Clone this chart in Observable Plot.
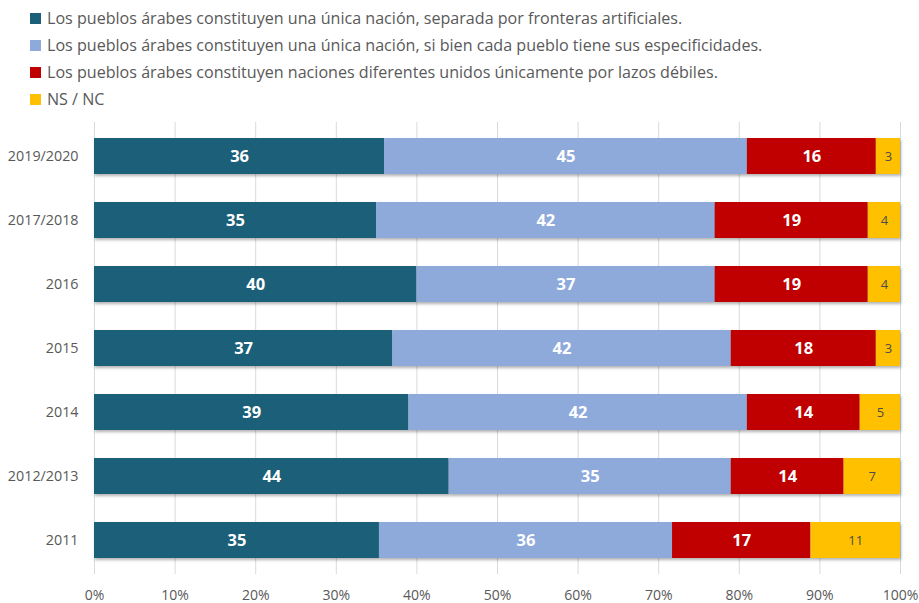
<!DOCTYPE html>
<html>
<head>
<meta charset="utf-8">
<script src="https://cdn.jsdelivr.net/npm/d3@7"></script>
<script src="https://cdn.jsdelivr.net/npm/@observablehq/plot@0.6"></script>
<style>
  html, body { margin: 0; padding: 0; background: #fff; }
  body { width: 919px; height: 603px; overflow: hidden; font-family: "Open Sans", sans-serif; }
  #legend { height: 110px; box-sizing: border-box; padding-top: 5px; padding-left: 30px; }
  .item { height: 27px; line-height: 27px; font-size: 16.1px; color: #595959; display: flex; align-items: center; white-space: nowrap; }
  .sw { width: 11px; height: 11px; margin-right: 6px; flex: none; }
</style>
</head>
<body>
<div id="legend"></div>
<div id="chart"></div>
<script>
const years = ["2019/2020", "2017/2018", "2016", "2015", "2014", "2012/2013", "2011"];
const categories = [
  "Los pueblos árabes constituyen una única nación, separada por fronteras artificiales.",
  "Los pueblos árabes constituyen una única nación, si bien cada pueblo tiene sus especificidades.",
  "Los pueblos árabes constituyen naciones diferentes unidos únicamente por lazos débiles.",
  "NS / NC"
];
const colors = ["#1b5f79", "#8eaadb", "#c00000", "#ffc000"];
const unicaSeparada = [36, 35, 40, 37, 39, 44, 35];
const unicaEspecificidades = [45, 42, 37, 42, 42, 35, 36];
const diferentes = [16, 19, 19, 18, 14, 14, 17];
const nsnc = [3, 4, 4, 3, 5, 7, 11];
const xTicks = [0, 0.1, 0.2, 0.3, 0.4, 0.5, 0.6, 0.7, 0.8, 0.9, 1];

const series = [unicaSeparada, unicaEspecificidades, diferentes, nsnc];
const data = [];
years.forEach((y, i) => {
  series.forEach((s, j) => data.push({year: y, cat: categories[j], value: s[i]}));
});

const legend = document.getElementById("legend");
categories.forEach((c, j) => {
  const row = document.createElement("div");
  row.className = "item";
  const sw = document.createElement("span");
  sw.className = "sw";
  sw.style.background = colors[j];
  const t = document.createElement("span");
  t.textContent = c;
  row.appendChild(sw);
  row.appendChild(t);
  legend.appendChild(row);
});

const stackOpts = {x: "value", y: "year", offset: "normalize", order: null};

const chart = Plot.plot({
  width: 919,
  height: 493,
  marginLeft: 94,
  marginRight: 19,
  marginTop: 12,
  marginBottom: 29,
  style: {fontFamily: "Open Sans, sans-serif", color: "#595959", background: "#fff"},
  x: {domain: [0, 1]},
  y: {domain: years, paddingInner: 0.44, paddingOuter: 0.22},
  color: {domain: categories, range: colors},
  marks: [
    Plot.gridX(xTicks, {stroke: "#d9d9d9", strokeOpacity: 1, strokeWidth: 1}),
    Plot.barX(data, Plot.stackX({...stackOpts, fill: "cat", imageFilter: "drop-shadow(1px 2px 1.5px rgba(0,0,0,0.3))"})),
    Plot.text(data, Plot.stackX({...stackOpts,
      text: d => d.cat === categories[3] ? null : String(d.value),
      fill: "#fff", fontWeight: "bold", fontSize: 16.5})),
    Plot.text(data, Plot.stackX({...stackOpts,
      text: d => d.cat === categories[3] ? String(d.value) : null,
      fill: "#4d4d4d", fontSize: 13})),
    Plot.axisX(xTicks, {tickSize: 0, tickPadding: 16, tickFormat: d3.format(".0%"), fontSize: 14, fill: "#595959", label: null}),
    Plot.axisY({tickSize: 0, tickPadding: 16, fontSize: 14.3, fill: "#595959", label: null})
  ]
});
document.getElementById("chart").appendChild(chart);
</script>
</body>
</html>
